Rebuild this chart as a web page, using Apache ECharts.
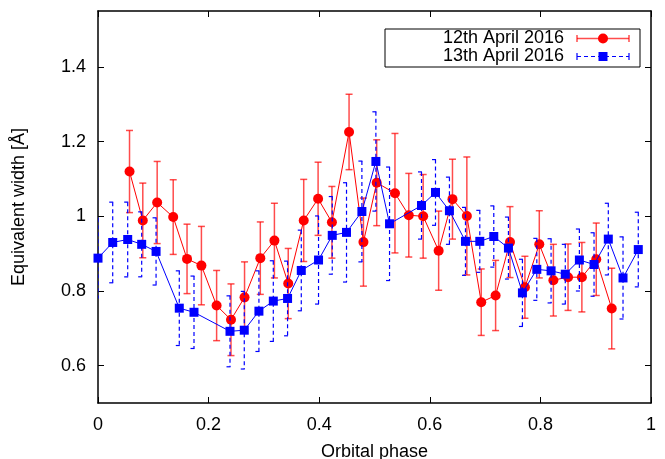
<!DOCTYPE html>
<html>
<head>
<meta charset="utf-8">
<script src="https://cdn.jsdelivr.net/npm/echarts@6/dist/echarts.min.js"></script>
<style>html,body{margin:0;padding:0;background:#fff}#c{width:665px;height:459px}</style>
</head>
<body>
<div id="c"></div>
<script>
// 12th April 2016
var redPhase = [0.057,0.081,0.107,0.136,0.161,0.187,0.2145,0.2405,0.265,0.2935,0.319,0.344,0.372,0.398,0.423,0.454,0.480,0.504,0.537,0.562,0.588,0.616,0.641,0.667,0.693,0.719,0.745,0.772,0.798,0.8235,0.850,0.875,0.901,0.929];
var redEW = [1.120,0.989,1.037,0.998,0.886,0.868,0.761,0.723,0.783,0.888,0.935,0.820,0.989,1.047,0.984,1.226,0.931,1.090,1.062,1.003,1.000,0.908,1.046,1.001,0.770,0.788,0.931,0.810,0.925,0.829,0.837,0.837,0.885,0.753];
var redErr = [0.11,0.10,0.11,0.10,0.093,0.105,0.094,0.096,0.095,0.097,0.10,0.094,0.11,0.098,0.096,0.101,0.118,0.115,0.16,0.112,0.112,0.106,0.107,0.158,0.089,0.094,0.095,0.083,0.09,0.096,0.089,0.093,0.097,0.108];
// 13th April 2016
var bluePhase = [0.000,0.0266,0.0537,0.079,0.105,0.147,0.1736,0.2387,0.2645,0.291,0.317,0.3428,0.3676,0.3988,0.4236,0.4494,0.4772,0.5025,0.5272,0.585,0.6103,0.6355,0.6645,0.6904,0.7157,0.7422,0.7675,0.7935,0.8193,0.845,0.8705,0.897,0.9228,0.9494,0.977];
var blueEW = [0.888,0.930,0.938,0.925,0.906,0.754,0.743,0.692,0.695,0.746,0.773,0.780,0.855,0.883,0.949,0.957,1.013,1.147,0.980,1.029,1.064,1.015,0.933,0.933,0.946,0.915,0.795,0.858,0.854,0.845,0.883,0.871,0.939,0.835,0.911];
var blueErr = [0.107,0.108,0.10,0.087,0.09,0.10,0.097,0.095,0.104,0.108,0.108,0.10,0.108,0.118,0.104,0.133,0.135,0.133,0.152,0.09,0.088,0.09,0.091,0.083,0.082,0.083,0.09,0.083,0.086,0.08,0.083,0.085,0.096,0.11,0.10];

var xTicks = [0,0.2,0.4,0.6,0.8,1];
var yTicks = [0.6,0.8,1,1.2,1.4];
var seriesNames = ['12th April 2016','13th April 2016'];

var FONT = 'Liberation Sans, Arial, sans-serif';

function zip(a,b,c){var out=[];for(var i=0;i<a.length;i++){out.push(c?[a[i],b[i],c[i]]:[a[i],b[i]]);}return out;}

function errRender(stroke, dash, width){
  return function(params, api){
    var x=api.value(0), y=api.value(1), e=api.value(2);
    var t=api.coord([x,y+e]), b=api.coord([x,y-e]);
    var cw=3.5;
    var st={stroke:stroke,lineWidth:width,lineDash:dash,fill:null};
    return {type:'group',children:[
      {type:'line',shape:{x1:t[0],y1:t[1],x2:b[0],y2:b[1]},style:st},
      {type:'line',shape:{x1:t[0]-cw,y1:t[1],x2:t[0]+cw,y2:t[1]},style:st},
      {type:'line',shape:{x1:b[0]-cw,y1:b[1],x2:b[0]+cw,y2:b[1]},style:st}
    ]};
  };
}

var chart = echarts.init(document.getElementById('c'), null, {renderer:'canvas'});
var axLine = {show:true,onZero:false,lineStyle:{color:'#000',width:1.5}};
var axTick = {show:true,inside:true,length:6,lineStyle:{color:'#000',width:1}};
var labelStyle = {fontSize:18,color:'#000',fontFamily:FONT};

// legend positions
var lx0=385, ly0=29, lx1=640, ly1=67, r1=38.5, r2=56.5, sx0=577, sx1=629, sxm=603, tx=564;

chart.setOption({
  animation:false,
  backgroundColor:'#fff',
  grid:{left:98,right:14,top:11,bottom:56,containLabel:false,outerBoundsMode:'none'},
  xAxis:[
    {type:'value',min:0,max:1,interval:0.2,position:'bottom',axisLine:axLine,axisTick:axTick,
     axisLabel:Object.assign({margin:13,customValues:xTicks},labelStyle),splitLine:{show:false},
     name:'Orbital phase',nameLocation:'middle',nameGap:40,nameTextStyle:labelStyle},
    {type:'value',min:0,max:1,interval:0.2,position:'top',axisLine:axLine,axisTick:axTick,
     axisLabel:{show:false},splitLine:{show:false}}
  ],
  yAxis:[
    {type:'value',min:0.5,max:1.55,position:'left',axisLine:axLine,
     axisTick:Object.assign({customValues:yTicks},axTick),
     axisLabel:Object.assign({margin:12,customValues:yTicks},labelStyle),splitLine:{show:false},
     name:'Equivalent width [Å]',nameLocation:'middle',nameGap:70,nameRotate:90,nameTextStyle:labelStyle},
    {type:'value',min:0.5,max:1.55,position:'right',axisLine:axLine,
     axisTick:Object.assign({customValues:yTicks},axTick),
     axisLabel:{show:false},splitLine:{show:false}}
  ],
  series:[
    {type:'custom',name:seriesNames[0]+' err',renderItem:errRender('rgba(255,0,0,0.7)',null,1.5),
     data:zip(redPhase,redEW,redErr),encode:{x:0,y:1},z:2,clip:true},
    {type:'line',name:seriesNames[0],data:zip(redPhase,redEW),symbol:'circle',symbolSize:10,
     itemStyle:{color:'#ff0000'},lineStyle:{color:'#ff0000',width:1},z:3},
    {type:'custom',name:seriesNames[1]+' err',renderItem:errRender('#0000ff',[4,3],1.2),
     data:zip(bluePhase,blueEW,blueErr),encode:{x:0,y:1},z:4,clip:true},
    {type:'line',name:seriesNames[1],data:zip(bluePhase,blueEW),symbol:'rect',symbolSize:9,
     itemStyle:{color:'#0000ff'},lineStyle:{color:'#0000ff',width:1},z:5}
  ],
  graphic:[
    {type:'rect',shape:{x:lx0,y:ly0,width:lx1-lx0,height:ly1-ly0},style:{fill:'#fff',stroke:'#000',lineWidth:1},z:100},
    {type:'text',x:tx,y:r1,style:{text:seriesNames[0],font:'18px '+FONT,fill:'#000',align:'right',verticalAlign:'middle'},z:101},
    {type:'text',x:tx,y:r2,style:{text:seriesNames[1],font:'18px '+FONT,fill:'#000',align:'right',verticalAlign:'middle'},z:101},
    {type:'line',shape:{x1:sx0,y1:r1,x2:sx1,y2:r1},style:{stroke:'rgba(255,0,0,0.7)',lineWidth:1.5},z:101},
    {type:'line',shape:{x1:sx0,y1:r1-3.5,x2:sx0,y2:r1+3.5},style:{stroke:'rgba(255,0,0,0.7)',lineWidth:1.5},z:101},
    {type:'line',shape:{x1:sx1,y1:r1-3.5,x2:sx1,y2:r1+3.5},style:{stroke:'rgba(255,0,0,0.7)',lineWidth:1.5},z:101},
    {type:'circle',shape:{cx:sxm,cy:r1,r:5},style:{fill:'#ff0000'},z:102},
    {type:'line',shape:{x1:sx0,y1:r2,x2:sx1,y2:r2},style:{stroke:'#0000ff',lineWidth:1.2,lineDash:[4,3]},z:101},
    {type:'line',shape:{x1:sx0,y1:r2-3.5,x2:sx0,y2:r2+3.5},style:{stroke:'#0000ff',lineWidth:1.2},z:101},
    {type:'line',shape:{x1:sx1,y1:r2-3.5,x2:sx1,y2:r2+3.5},style:{stroke:'#0000ff',lineWidth:1.2},z:101},
    {type:'rect',shape:{x:sxm-4.5,y:r2-4.5,width:9,height:9},style:{fill:'#0000ff'},z:102}
  ]
});
</script>
</body>
</html>
